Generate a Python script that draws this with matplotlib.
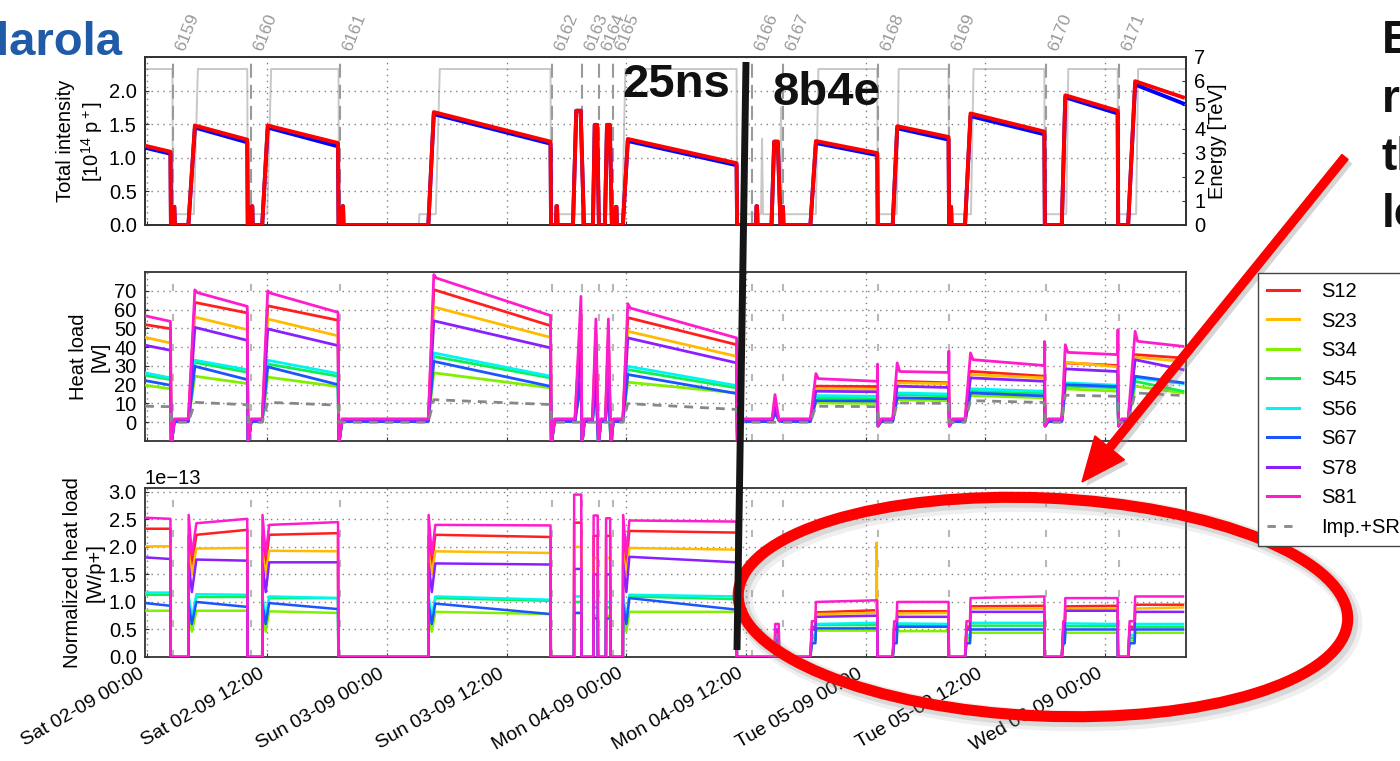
import numpy as np
import pandas as pd
import matplotlib
matplotlib.use("Agg")
import matplotlib.pyplot as plt
import matplotlib.dates as mdates
import matplotlib.patheffects as pe
import matplotlib.transforms as mtransforms
from matplotlib.lines import Line2D
from matplotlib.patches import Ellipse, FancyArrow

plt.rcParams["font.family"] = ["Liberation Sans", "DejaVu Sans"]
plt.rcParams["mathtext.fontset"] = "custom"
plt.rcParams["mathtext.rm"] = "Liberation Sans"
plt.rcParams["mathtext.it"] = "Liberation Sans:italic"

t0 = pd.Timestamp("2017-09-02 00:00")

# ---------------- fills (hours after Sat 02-09 00:00) ----------------
fill_numbers = [6159, 6160, 6161, 6162, 6163, 6164, 6165, 6166, 6167, 6168, 6169, 6170, 6171]
fill_marks = [2.56, 10.38, 19.25, 40.55, 43.56, 45.26, 46.67, 60.6, 63.7, 73.2, 80.35, 90.07, 97.39]

# fills that reached stable beams: injection start, end of injection, dump
fill_up = [-0.25, 4.1, 11.5, 28.15, 47.65, 66.45, 74.7, 81.95, 91.65, 98.3]
fill_top = [-0.25, 4.75, 12.05, 28.7, 48.15, 67.0, 75.15, 82.5, 92.0, 99.0]
fill_dump = [2.3, 10.0, 19.1, 40.4, 59.05, 73.15, 80.3, 89.9, 97.25, 103.8]
scheme = ["25ns"] * 5 + ["8b4e"] * 5

# total intensity [1e14 p]
b1_start = [1.15, 1.45, 1.45, 1.65, 1.25, 1.22, 1.44, 1.62, 1.90, 2.09]
b1_end = [1.06, 1.23, 1.17, 1.21, 0.89, 1.04, 1.27, 1.35, 1.66, 1.81]
b2_start = [1.18, 1.48, 1.48, 1.68, 1.28, 1.25, 1.47, 1.66, 1.93, 2.14]
b2_end = [1.09, 1.27, 1.22, 1.24, 0.92, 1.07, 1.31, 1.39, 1.70, 1.90]

# injections that were dumped before stable beams
inj_on = [2.55, 10.4, 19.5, 40.95, 42.65, 44.65, 45.85, 46.9, 61.0, 62.55, 63.6, 80.45]
inj_off = [2.75, 10.55, 19.65, 41.1, 43.75, 45.25, 46.55, 47.05, 61.15, 63.45, 63.75, 80.6]
inj_val = [0.27, 0.28, 0.28, 0.28, 1.70, 1.49, 1.49, 0.27, 0.28, 1.24, 0.27, 0.27]

# beam energy [TeV]
energy_t = [-0.25, 2.5, 2.55, 4.65, 5.05, 10.0, 10.05, 12.0, 12.4, 19.15, 19.2, 27.2,
            27.25, 28.9, 29.3, 40.4, 40.45, 47.6, 47.9, 59.05, 59.1, 61.5, 61.6, 61.7,
            63.4, 63.5, 63.6, 67.0, 67.25, 73.15, 73.2, 75.1, 75.3, 80.3, 80.35, 82.55,
            82.8, 89.9, 89.95, 92.1, 92.3, 97.25, 97.3, 99.1, 99.3, 104.1]
energy_v = [6.5, 6.5, 0.45, 0.45, 6.5, 6.5, 0.45, 0.45, 6.5, 6.5, 0.0, 0.0,
            0.45, 0.45, 6.5, 6.5, 0.45, 0.45, 6.5, 6.5, 0.45, 0.45, 3.6, 0.45,
            0.45, 4.9, 0.45, 0.45, 6.5, 6.5, 0.45, 0.45, 6.5, 6.5, 0.45, 0.45,
            6.5, 6.5, 0.45, 0.45, 6.5, 6.5, 0.45, 0.45, 6.5, 6.5]

# ---------------- heat loads per arc ----------------
sectors = ["S12", "S23", "S34", "S45", "S56", "S67", "S78", "S81"]
sector_colors = ["#ff1f1f", "#ffbb00", "#80f000", "#10ee50", "#00f4f4",
                 "#1a55ff", "#8a1fff", "#ff1ccc"]

hl_start = [
    [52.0, 63.8, 62.0, 70.6, 55.7, 19.2, 21.8, 27.1, 31.6, 36.0],
    [45.2, 56.0, 55.0, 61.4, 48.4, 17.8, 21.0, 25.4, 32.0, 34.7],
    [19.7, 24.5, 24.0, 26.3, 21.3, 10.3, 12.0, 14.2, 17.8, 19.2],
    [25.0, 31.9, 31.0, 35.0, 28.0, 13.0, 14.7, 16.5, 19.2, 21.8],
    [26.3, 33.0, 33.0, 36.9, 29.8, 14.2, 15.6, 17.8, 21.0, 23.6],
    [22.2, 29.8, 29.5, 32.4, 25.4, 11.5, 13.0, 15.6, 20.0, 24.5],
    [41.0, 50.5, 49.7, 54.0, 44.9, 16.5, 19.2, 23.6, 28.4, 33.3],
    [56.7, 69.0, 68.8, 76.8, 60.8, 23.2, 27.0, 33.3, 37.2, 43.1],
]
hl_end = [
    [49.8, 58.2, 54.3, 51.4, 41.3, 19.0, 21.0, 24.5, 30.2, 34.2],
    [42.2, 49.3, 46.0, 45.2, 35.1, 17.5, 20.5, 23.6, 29.5, 32.3],
    [17.8, 20.6, 19.0, 18.3, 15.6, 10.0, 11.5, 13.0, 16.5, 15.6],
    [22.7, 26.6, 24.5, 23.6, 18.3, 12.5, 14.0, 15.3, 18.3, 16.5],
    [23.6, 28.0, 25.9, 24.5, 19.5, 13.8, 15.0, 16.5, 19.7, 20.6],
    [19.7, 22.7, 20.0, 19.1, 15.3, 11.3, 12.5, 14.0, 19.0, 21.0],
    [38.3, 43.6, 40.8, 39.6, 31.6, 16.2, 18.5, 21.8, 27.0, 28.0],
    [53.7, 61.7, 58.5, 56.8, 44.9, 21.8, 26.5, 30.2, 36.0, 40.4],
]
hl_gap = [1.0, 1.2, 0.8, 0.8, 1.0, 0.3, 1.0, 1.8]
hl_s81_peak = [0, 70.5, 70.0, 78.6, 63.1, 25.9, 31.6, 36.9, 41.3, 48.4]
hl_s81_dump = [0, 0, 0, 0, 0, 31.0, 37.8, 43.0, 49.3, 0]
hl_dump_low = [-12, -12, -12, -12, -12, -2, -2, -2, -2, 0]

hl_spike_on = [42.85, 44.6, 45.9, 62.6]
hl_spike_top = [43.45, 44.95, 46.2, 62.9]
hl_spike_off = [43.55, 45.2, 46.45, 63.3]
hl_spike_low = [-12, -12, -12, 1]
hl_spike_val = [
    [58, 47, 47, 10],
    [50, 42, 42, 9],
    [22, 18, 18, 5],
    [25, 21, 21, 6],
    [27, 23, 23, 7],
    [22, 19, 19, 5],
    [40, 35, 35, 8],
    [67, 55, 55, 14.7],
]

imp_start = [8.5, 10.6, 10.6, 12.0, 9.9, 8.5, 10.3, 11.5, 14.4, 15.6]
imp_end = [8.3, 9.3, 9.1, 9.4, 6.8, 8.3, 10.0, 10.5, 13.8, 14.2]

# normalized heat load [1e-13 W/p+]
norm_unit = 1e-13
norm_start = [
    [2.33, 2.22, 2.22, 2.22, 2.29, 0.81, 0.83, 0.92, 0.92, 0.95],
    [2.01, 1.97, 1.93, 1.92, 1.98, 0.78, 0.79, 0.88, 0.88, 0.88],
    [0.84, 0.84, 0.83, 0.82, 0.82, 0.48, 0.47, 0.44, 0.44, 0.44],
    [1.13, 1.09, 1.07, 1.07, 1.10, 0.58, 0.58, 0.57, 0.56, 0.55],
    [1.17, 1.14, 1.10, 1.10, 1.13, 0.60, 0.61, 0.62, 0.61, 0.60],
    [0.98, 1.00, 0.98, 0.97, 1.07, 0.52, 0.55, 0.50, 0.50, 0.50],
    [1.81, 1.77, 1.72, 1.70, 1.82, 0.73, 0.73, 0.82, 0.84, 0.82],
    [2.53, 2.43, 2.40, 2.40, 2.48, 1.00, 1.00, 1.07, 1.07, 1.10],
]
norm_end = [
    [2.33, 2.31, 2.25, 2.18, 2.26, 0.85, 0.83, 0.93, 0.93, 0.95],
    [2.01, 1.98, 1.92, 1.89, 1.95, 0.80, 0.80, 0.88, 0.88, 0.90],
    [0.84, 0.84, 0.80, 0.78, 0.82, 0.48, 0.47, 0.44, 0.44, 0.44],
    [1.13, 1.09, 1.07, 1.02, 1.05, 0.58, 0.58, 0.57, 0.56, 0.55],
    [1.17, 1.13, 1.07, 1.04, 1.10, 0.62, 0.60, 0.62, 0.60, 0.60],
    [0.93, 0.91, 0.87, 0.78, 0.86, 0.52, 0.55, 0.50, 0.50, 0.50],
    [1.78, 1.75, 1.72, 1.68, 1.72, 0.75, 0.73, 0.82, 0.84, 0.82],
    [2.51, 2.51, 2.45, 2.39, 2.46, 1.03, 1.00, 1.10, 1.07, 1.10],
]
norm_first = [2.2, 1.9, 0.8, 1.05, 1.1, 0.95, 1.7, 2.58]
norm_dip = [1.65, 1.5, 0.46, 0.62, 0.7, 0.6, 1.18, 1.85]
norm_ramp = [0.55, 0.5, 0.3, 0.35, 0.4, 0.25, 0.5, 0.65]

norm_spike_on = [42.75, 44.7, 45.95, 62.9]
norm_spike_off = [43.5, 45.15, 46.4, 63.3]
norm_spike_val = [
    [2.44, 2.2, 2.2, 0.45],
    [2.0, 1.8, 1.8, 0.4],
    [0.8, 0.75, 0.75, 0.3],
    [1.0, 0.9, 0.9, 0.35],
    [1.1, 1.0, 1.0, 0.35],
    [0.8, 0.7, 0.7, 0.3],
    [1.6, 1.5, 1.5, 0.5],
    [2.95, 2.57, 2.52, 0.6],
]
glitch_sector, glitch_t, glitch_v = "S23", 73.1, 2.08

n_fills = len(fill_top)
i81 = sectors.index("S81")


def timeline(points):
    points = sorted(points, key=lambda p: p[0])
    h = np.array([p[0] for p in points], dtype=float)
    v = np.array([p[1] for p in points], dtype=float)
    return t0 + pd.to_timedelta(h, unit="h"), v


def beam_curve(start, end):
    pts = []
    for i in range(n_fills):
        if i > 0:
            pts.append((fill_up[i], 0.0))
        pts += [(fill_top[i], start[i]), (fill_dump[i], end[i])]
        if i < n_fills - 1:
            pts.append((fill_dump[i] + 0.05, 0.0))
    for a, b, v in zip(inj_on, inj_off, inj_val):
        w = b - a
        pts += [(a, 0.0), (a + 0.3 * w, v), (b - 0.3 * w, v), (b, 0.0)]
    return timeline(pts)


def heat_curve(k):
    gap = hl_gap[k]
    pts = []
    for i in range(n_fills):
        if i > 0:
            pts.append((fill_up[i], gap))
            if k == i81 and hl_s81_peak[i] > 0:
                pts += [(fill_top[i], hl_s81_peak[i]), (fill_top[i] + 0.25, hl_start[k][i])]
            else:
                pts.append((fill_top[i], hl_start[k][i]))
        else:
            pts.append((fill_top[i], hl_start[k][i]))
        pts.append((fill_dump[i], hl_end[k][i]))
        if i < n_fills - 1:
            if k == i81 and hl_s81_dump[i] > 0:
                pts.append((fill_dump[i] + 0.03, hl_s81_dump[i]))
            pts += [(fill_dump[i] + 0.08, hl_dump_low[i]), (fill_dump[i] + 0.4, gap)]
    for j in range(len(hl_spike_on)):
        pts += [(hl_spike_on[j], gap), (hl_spike_top[j], hl_spike_val[k][j]),
                (hl_spike_off[j], hl_spike_low[j]), (hl_spike_off[j] + 0.25, gap)]
    return timeline(pts)


def imp_curve():
    pts = []
    for i in range(n_fills):
        if i > 0:
            pts.append((fill_up[i], 0.0))
        pts += [(fill_top[i], imp_start[i]), (fill_dump[i], imp_end[i])]
        if i < n_fills - 1:
            pts.append((fill_dump[i] + 0.1, 0.0))
    return timeline(pts)


def norm_curve(k):
    pts = []
    for i in range(n_fills):
        if i > 0:
            up = fill_up[i]
            pts.append((up, 0.0))
            if scheme[i] == "25ns":
                pts += [(up + 0.03, norm_first[k]), (up + 0.35, norm_dip[k]),
                        (fill_top[i] + 0.15, norm_start[k][i])]
            else:
                pts += [(up + 0.15, norm_ramp[k]), (fill_top[i] - 0.05, norm_ramp[k]),
                        (fill_top[i], norm_start[k][i])]
        else:
            pts.append((fill_top[i], norm_start[k][i]))
        pts.append((fill_dump[i], norm_end[k][i]))
        if i < n_fills - 1:
            pts.append((fill_dump[i] + 0.03, 0.0))
    for j in range(len(norm_spike_on)):
        a, b, v = norm_spike_on[j], norm_spike_off[j], norm_spike_val[k][j]
        pts += [(a, 0.0), (a + 0.02, v), (b - 0.02, v), (b, 0.0)]
    if sectors[k] == glitch_sector:
        base = norm_end[k][5]
        pts += [(glitch_t - 0.03, base), (glitch_t, glitch_v), (glitch_t + 0.03, base)]
    t, v = timeline(pts)
    return t, v * norm_unit


# ---------------- figure ----------------
W, H = 1400, 761
fig = plt.figure(figsize=(W / 100, H / 100), dpi=100)
left, width = 145 / W, 1041 / W
ax_i = fig.add_axes([left, 1 - 225 / H, width, 168 / H])
ax_h = fig.add_axes([left, 1 - 441 / H, width, 169 / H], sharex=ax_i)
ax_n = fig.add_axes([left, 1 - 657 / H, width, 169 / H], sharex=ax_i)
ax_e = ax_i.twinx()
ax_i.set_zorder(ax_e.get_zorder() + 1)
ax_i.patch.set_visible(False)

tick_size = 14.5
label_size = 14.5
grid_style = dict(color="#808080", linestyle=(0, (1, 3.3)), linewidth=1.0)
mark_times = t0 + pd.to_timedelta(np.array(fill_marks), unit="h")

# intensity and energy
te = t0 + pd.to_timedelta(np.array(energy_t), unit="h")
ax_e.plot(te, energy_v, color="#c8c8c8", lw=1.4)
ax_e.set_ylim(0, 7)
ax_e.set_yticks(range(0, 8))
ax_e.set_ylabel("Energy [TeV]", fontsize=label_size, labelpad=2)

for mt in mark_times:
    ax_i.axvline(mt, color="#9a9a9a", lw=1.5, linestyle=(0, (6.7, 3.4)), zorder=1)
tb, vb = beam_curve(b1_start, b1_end)
tr, vr = beam_curve(b2_start, b2_end)
ax_i.plot(tb, vb, color="#0000ff", lw=2.8, zorder=3)
ax_i.plot(tr, vr, color="#ff0000", lw=2.8, zorder=4)
ax_i.set_ylim(0, 2.5)
ax_i.set_yticks([0, 0.5, 1.0, 1.5, 2.0])
ax_i.yaxis.set_major_formatter(matplotlib.ticker.FormatStrFormatter("%.1f"))
ax_i.set_ylabel("Total intensity\n[10$^{14}$ p$^+$]", fontsize=label_size, labelpad=3)

top_blend = mtransforms.blended_transform_factory(ax_i.transData, ax_i.transAxes)
for n, mt in zip(fill_numbers, mark_times):
    ax_i.text(mt, 1.025, str(n), transform=top_blend, rotation=68, ha="left", va="bottom",
              color="#9a9a9a", fontsize=12.5)

# heat load
for mt in mark_times:
    ax_h.axvline(mt, color="#b8b8b8", lw=1.5, linestyle=(0, (3.4, 11)), zorder=1)
for k, (name, col) in enumerate(zip(sectors, sector_colors)):
    t, v = heat_curve(k)
    ax_h.plot(t, v, color=col, lw=2.0, zorder=3)
ti, vi = imp_curve()
ax_h.plot(ti, vi, color="#888888", lw=2.0, linestyle=(0, (3.2, 2.5)), zorder=4)
ax_h.set_ylim(-10, 80)
ax_h.set_yticks(range(0, 80, 10))
ax_h.set_ylabel("Heat load\n[W]", fontsize=label_size, labelpad=3)

# normalized heat load
for mt in mark_times:
    ax_n.axvline(mt, color="#b8b8b8", lw=1.5, linestyle=(0, (3.4, 11)), zorder=1)
for k, (name, col) in enumerate(zip(sectors, sector_colors)):
    t, v = norm_curve(k)
    ax_n.plot(t, v, color=col, lw=1.8, zorder=3)
ax_n.set_ylim(0, 3.07e-13)
ax_n.set_yticks(np.arange(0, 3.01, 0.5) * norm_unit)
ax_n.set_ylabel("Normalized heat load\n[W/p+]", fontsize=label_size, labelpad=3)
ax_n.yaxis.get_offset_text().set_fontsize(tick_size)

ax_n.set_xlim(t0 - pd.Timedelta(hours=0.25), t0 + pd.Timedelta(hours=104.1))
ax_n.xaxis.set_major_locator(mdates.HourLocator(byhour=[0, 12]))
ax_n.xaxis.set_major_formatter(mdates.DateFormatter("%a %d-%m %H:%M"))

for ax in (ax_i, ax_h, ax_n, ax_e):
    for sp in ax.spines.values():
        sp.set_color("#333333")
        sp.set_linewidth(1.3)
    ax.tick_params(labelsize=tick_size, direction="in", length=3, color="#333333", pad=6)
for ax in (ax_i, ax_h, ax_n):
    ax.grid(True, **grid_style)
    ax.set_axisbelow(True)
ax_i.tick_params(labelbottom=False)
ax_h.tick_params(labelbottom=False)
for lab in ax_n.get_xticklabels():
    lab.set_rotation(30)
    lab.set_ha("right")
    lab.set_fontsize(14)

# legend
handles = [Line2D([], [], color=c, lw=2.2) for c in sector_colors]
handles.append(Line2D([], [], color="#888888", lw=2.0, linestyle=(0, (3, 3))))
fig.legend(handles, sectors + ["Imp.+SR"], loc="upper left",
           bbox_to_anchor=(1258 / W, 1 - 273 / H), fontsize=14.5, frameon=True,
           fancybox=False, edgecolor="#444444", framealpha=1, borderaxespad=0,
           handlelength=1.6, handletextpad=1.1, labelspacing=0.52, borderpad=0.45)

# slide annotations
fig.text(122 / W, 1 - 55 / H, "G. Iadarola", ha="right", va="baseline", fontsize=34,
         fontweight="bold", color="#1f5ba6")
fig.text(622 / W, 1 - 97 / H, "25ns", ha="left", va="baseline", fontsize=34, fontweight="bold", color="#111111")
fig.text(773 / W, 1 - 105 / H, "8b4e", ha="left", va="baseline", fontsize=34, fontweight="bold", color="#111111")
for word, base in zip(["E", "re", "th", "lo"], [53, 112, 170, 227]):
    fig.text(1382 / W, 1 - base / H, word, ha="left", va="baseline", fontsize=33,
             fontweight="bold", color="#111111")

fig.add_artist(Line2D([746 / W, 737 / W], [1 - 62 / H, 1 - 650 / H], transform=fig.transFigure,
                      color="#151515", lw=5, solid_capstyle="butt"))

shadow = [pe.Stroke(linewidth=15, foreground="#9a9a9a", alpha=0.15, offset=(3, -3)),
          pe.Stroke(linewidth=11, foreground="#888888", alpha=0.22, offset=(2, -2)),
          pe.Normal()]
ring = Ellipse((1043 / 100, (H - 607) / 100), width=6.10, height=2.18, angle=-2.5,
               transform=fig.dpi_scale_trans, fill=False, edgecolor="#ff0000", lw=8.0)
ring.set_path_effects(shadow)
fig.add_artist(ring)

arrow = FancyArrow(13.45, (H - 157) / 100, 10.82 - 13.45, (157 - 482) / 100,
                   width=0.08, head_width=0.38, head_length=0.44, length_includes_head=True,
                   transform=fig.dpi_scale_trans, color="#ff0000")
arrow.set_path_effects([pe.SimplePatchShadow(offset=(3, -3), shadow_rgbFace="#888888", alpha=0.35),
                        pe.Normal()])
fig.add_artist(arrow)

fig.savefig("out.png", dpi=100)
